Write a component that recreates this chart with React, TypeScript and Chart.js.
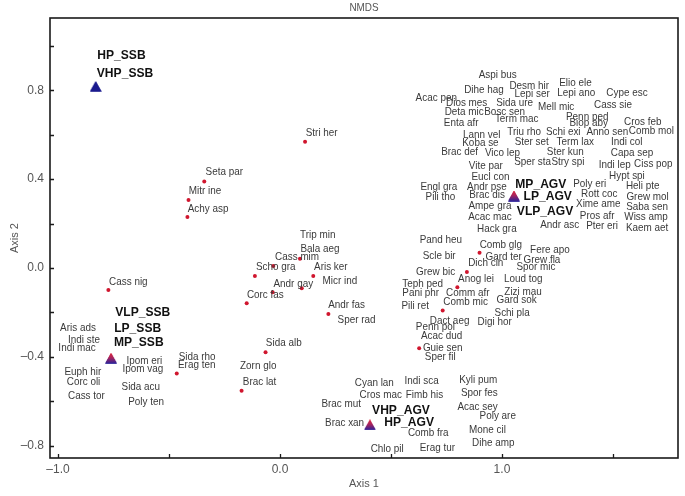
import React, { useEffect, useRef } from 'react';
import { Chart, registerables } from 'chart.js';

Chart.register(...registerables);

// ---- Data (NMDS axis scores) ----
const speciesNames = [
  'Aspi bus', 'Elio ele', 'Desm hir', 'Dihe hag', 'Lepi ser', 'Lepi ano', 'Cype esc', 'Acac pen', 'Dios mes', 'Sida ure',
  'Mell mic', 'Cass sie', 'Deta mic', 'Bosc sen', 'Term mac', 'Penn ped', 'Enta afr', 'Biop aby', 'Cros feb', 'Lann vel',
  'Triu rho', 'Schi exi', 'Anno sen', 'Comb mol', 'Koba se', 'Ster set', 'Term lax', 'Indi col', 'Brac def', 'Vico lep',
  'Ster kun', 'Capa sep', 'Vite par', 'Sper sta', 'Stry spi', 'Indi lep', 'Ciss pop', 'Eucl con', 'Poly eri', 'Hypt spi',
  'Engl gra', 'Andr pse', 'Heli pte', 'Pili tho', 'Brac dis', 'Rott coc', 'Grew mol', 'Ampe gra', 'Xime ame', 'Saba sen',
  'Acac mac', 'Pros afr', 'Wiss amp', 'Andr asc', 'Pter eri', 'Kaem aet', 'Hack gra', 'Pand heu', 'Comb glg', 'Fere apo',
  'Scle bir', 'Gard ter', 'Dich cin', 'Grew fla', 'Spor mic', 'Grew bic', 'Anog lei', 'Loud tog', 'Teph ped', 'Pani phr',
  'Comm afr', 'Zizi mau', 'Pili ret', 'Comb mic', 'Gard sok', 'Schi pla', 'Dact aeg', 'Digi hor', 'Penn pol', 'Acac dud',
  'Guie sen', 'Sper fil',
  'Cyan lan', 'Indi sca', 'Kyli pum', 'Cros mac', 'Fimb his', 'Spor fes', 'Brac mut', 'Acac sey', 'Poly are', 'Brac xan',
  'Comb fra', 'Mone cil', 'Chlo pil', 'Erag tur', 'Dihe amp',
  'Stri her', 'Seta par', 'Mitr ine', 'Achy asp', 'Trip min', 'Bala aeg', 'Cass mim', 'Scho gra', 'Aris ker', 'Micr ind',
  'Andr gay', 'Corc fas', 'Andr fas', 'Sper rad', 'Sida alb', 'Zorn glo', 'Brac lat', 'Sida rho', 'Erag ten',
  'Cass nig', 'Aris ads', 'Indi ste', 'Indi mac', 'Ipom eri', 'Ipom vag', 'Euph hir', 'Corc oli', 'Sida acu', 'Cass tor',
  'Poly ten',
];

const speciesX = [
  0.981, 1.331, 1.123, 0.919, 1.136, 1.335, 1.563, 0.704, 0.841, 1.057,
  1.244, 1.500, 0.830, 1.012, 1.066, 1.384, 0.816, 1.391, 1.634, 0.909,
  1.100, 1.276, 1.475, 1.673, 0.903, 1.134, 1.330, 1.562, 0.809, 1.002,
  1.285, 1.586, 0.927, 1.138, 1.297, 1.508, 1.682, 0.948, 1.395, 1.563,
  0.716, 0.932, 1.634, 0.723, 0.933, 1.438, 1.656, 0.946, 1.434, 1.654,
  0.946, 1.429, 1.649, 1.260, 1.451, 1.654, 0.977, 0.725, 0.995, 1.216,
  0.717, 1.008, 0.927, 1.180, 1.153, 0.701, 0.883, 1.096, 0.643, 0.634,
  0.846, 1.095, 0.609, 0.836, 1.066, 1.046, 0.764, 0.967, 0.700, 0.728,
  0.733, 0.722,
  0.425, 0.638, 0.893, 0.454, 0.651, 0.898, 0.276, 0.890, 0.981, 0.291,
  0.668, 0.935, 0.483, 0.709, 0.961,
  0.188, -0.251, -0.338, -0.324, 0.170, 0.180, 0.077, -0.019, 0.229, 0.270,
  0.060, -0.066, 0.300, 0.345, 0.017, -0.098, -0.092, -0.373, -0.375,
  -0.683, -0.910, -0.883, -0.914, -0.611, -0.618, -0.888, -0.885, -0.627, -0.872,
  -0.603,
];

const speciesY = [
  0.869, 0.835, 0.820, 0.802, 0.782, 0.787, 0.787, 0.764, 0.742, 0.742,
  0.727, 0.734, 0.704, 0.704, 0.670, 0.682, 0.655, 0.655, 0.659, 0.599,
  0.614, 0.614, 0.614, 0.617, 0.564, 0.569, 0.569, 0.569, 0.524, 0.519,
  0.521, 0.519, 0.459, 0.479, 0.479, 0.464, 0.468, 0.411, 0.378, 0.414,
  0.364, 0.366, 0.369, 0.321, 0.329, 0.332, 0.321, 0.279, 0.287, 0.273,
  0.228, 0.236, 0.228, 0.194, 0.189, 0.179, 0.174, 0.126, 0.104, 0.081,
  0.054, 0.051, 0.023, 0.036, 0.003, -0.018, -0.048, -0.050, -0.073, -0.114,
  -0.114, -0.107, -0.170, -0.152, -0.144, -0.201, -0.239, -0.242, -0.267, -0.306,
  -0.362, -0.402,
  -0.517, -0.508, -0.505, -0.572, -0.572, -0.564, -0.614, -0.625, -0.667, -0.697,
  -0.745, -0.730, -0.817, -0.812, -0.790,
  0.609, 0.431, 0.348, 0.267, 0.149, 0.084, 0.048, 0.003, 0.003, -0.057,
  -0.072, -0.122, -0.167, -0.234, -0.336, -0.443, -0.512, -0.400, -0.438,
  -0.062, -0.272, -0.324, -0.362, -0.419, -0.456, -0.467, -0.512, -0.535, -0.577,
  -0.602,
];

// visible species markers
const dotX = [
  0.113, -0.341, -0.412, -0.417, 0.090, -0.030, -0.113, 0.150, 0.098, -0.033,
  -0.150, 0.218, -0.065, -0.173, -0.465, -0.773, 0.899, 0.842, 0.799, 0.733,
  0.627,
];
const dotY = [
  0.569, 0.389, 0.306, 0.230, 0.041, 0.009, -0.036, -0.036, -0.091, -0.109,
  -0.159, -0.207, -0.380, -0.553, -0.475, -0.099, 0.068, -0.018, -0.087, -0.192,
  -0.362,
];

// sites (stands)
const siteNames = ['HP_SSB', 'VHP_SSB', 'VLP_SSB', 'LP_SSB', 'MP_SSB', 'MP_AGV', 'LP_AGV', 'VLP_AGV', 'VHP_AGV', 'HP_AGV'];
const siteX = [-0.830, -0.830, -0.761, -0.761, -0.761, 1.054, 1.054, 1.054, 0.405, 0.405];
const siteY = [0.817, 0.817, -0.407, -0.407, -0.407, 0.324, 0.324, 0.324, -0.707, -0.707];
const siteLabelX = [-0.714, -0.698, -0.618, -0.641, -0.636, 1.175, 1.206, 1.194, 0.545, 0.582];
const siteLabelY = [0.959, 0.878, -0.201, -0.272, -0.336, 0.378, 0.321, 0.254, -0.640, -0.697];
const siteMixed = [false, false, true, true, true, true, true, true, true, true];

// axes
const X_MIN = -1.036;
const X_MAX = 1.793;
const Y_MIN = -0.856;
const Y_MAX = 1.126;
const xLabelValues = [-1, 0, 1];
const yLabelValues = [-0.8, -0.4, 0, 0.4, 0.8];

const FONT = '"Liberation Sans", Arial, sans-serif';

function fmt(v: number): string {
  const s = Math.abs(v).toFixed(1);
  return v < -1e-9 ? '\u2013' + s : s;
}

function makeTriangle(mixed: boolean): HTMLCanvasElement {
  const c = document.createElement('canvas');
  c.width = 12;
  c.height = 11;
  const g = c.getContext('2d')!;
  g.beginPath();
  g.moveTo(6, 0.3);
  g.lineTo(11.7, 10.5);
  g.lineTo(0.3, 10.5);
  g.closePath();
  if (mixed) {
    const grad = g.createLinearGradient(0, 0, 0, 11);
    grad.addColorStop(0, '#e0283a');
    grad.addColorStop(0.45, '#a8245e');
    grad.addColorStop(1, '#22229c');
    g.fillStyle = grad;
  } else {
    g.fillStyle = '#1a1a8e';
  }
  g.fill();
  return c;
}

function drawCondensed(ctx: CanvasRenderingContext2D, text: string, x: number, y: number, sx: number) {
  ctx.save();
  ctx.translate(x, y);
  ctx.scale(sx, 1);
  ctx.fillText(text, 0, 0);
  ctx.restore();
}

const decorPlugin = {
  id: 'decor',
  afterDatasetsDraw(chart: any) {
    const { ctx, scales } = chart;
    const xs = scales.x;
    const ys = scales.y;
    ctx.save();
    ctx.textAlign = 'center';
    ctx.textBaseline = 'middle';
    ctx.font = `11px ${FONT}`;
    ctx.fillStyle = '#3a3a3a';
    speciesNames.forEach((n, i) => {
      drawCondensed(ctx, n, xs.getPixelForValue(speciesX[i]), ys.getPixelForValue(speciesY[i]), 0.9);
    });
    ctx.font = `bold 13px ${FONT}`;
    ctx.fillStyle = '#111111';
    siteNames.forEach((n, i) => {
      drawCondensed(ctx, n, xs.getPixelForValue(siteLabelX[i]), ys.getPixelForValue(siteLabelY[i]), 0.93);
    });
    ctx.restore();
  },
  afterDraw(chart: any) {
    const { ctx, chartArea, scales } = chart;
    const { left, right, top, bottom } = chartArea;
    ctx.save();
    // inward tick marks
    ctx.strokeStyle = '#1a1a1a';
    ctx.lineWidth = 1.3;
    ctx.beginPath();
    scales.x.ticks.forEach((t: any) => {
      const px = Math.round(scales.x.getPixelForValue(t.value)) + 0.5;
      ctx.moveTo(px, bottom);
      ctx.lineTo(px, bottom - 4);
    });
    scales.y.ticks.forEach((t: any) => {
      const py = Math.round(scales.y.getPixelForValue(t.value)) + 0.5;
      ctx.moveTo(left, py);
      ctx.lineTo(left + 4, py);
    });
    ctx.stroke();
    // frame
    ctx.lineWidth = 1.6;
    ctx.strokeStyle = '#1a1a1a';
    ctx.strokeRect(left, top, right - left, bottom - top);
    // title
    ctx.fillStyle = '#555555';
    ctx.font = `11px ${FONT}`;
    ctx.textAlign = 'center';
    ctx.textBaseline = 'middle';
    drawCondensed(ctx, 'NMDS', (left + right) / 2, 8, 0.9);
    ctx.restore();
  },
};

export default function App() {
  const ref = useRef<HTMLCanvasElement | null>(null);

  useEffect(() => {
    if (!ref.current) return;
    const navyTri = makeTriangle(false);
    const mixTri = makeTriangle(true);
    const chart = new Chart(ref.current, {
      type: 'scatter',
      data: {
        datasets: [
          {
            label: 'Species',
            data: dotX.map((x, i) => ({ x, y: dotY[i] })),
            pointRadius: 2,
            pointBackgroundColor: '#d0162e',
            pointBorderWidth: 0,
            pointBorderColor: '#d0162e',
          },
          {
            label: 'Sites',
            data: siteX.map((x, i) => ({ x, y: siteY[i] })),
            pointStyle: (c: any) => (siteMixed[c.dataIndex] ? mixTri : navyTri),
            pointRadius: 6,
          },
        ],
      },
      options: {
        animation: false,
        responsive: false,
        devicePixelRatio: 1,
        layout: { padding: { left: 0, right: 7, top: 18, bottom: 0 } },
        plugins: {
          legend: { display: false },
          tooltip: { enabled: false },
          title: { display: false },
        },
        scales: {
          x: {
            type: 'linear',
            min: X_MIN,
            max: X_MAX,
            afterFit: (s: any) => {
              s.height = 38;
            },
            grid: { display: false, drawTicks: false },
            border: { display: false },
            ticks: {
              stepSize: 0.5,
              includeBounds: false,
              autoSkip: false,
              maxRotation: 0,
              padding: 4,
              color: '#555555',
              font: { size: 12, family: FONT },
              callback: (v: any) => {
                const n = Number(v);
                return xLabelValues.some((t) => Math.abs(t - n) < 1e-6) ? fmt(n) : '';
              },
            },
            title: {
              display: true,
              text: 'Axis 1',
              color: '#555555',
              font: { size: 11, family: FONT },
              padding: { top: 0, bottom: 5 },
            },
          },
          y: {
            type: 'linear',
            min: Y_MIN,
            max: Y_MAX,
            afterFit: (s: any) => {
              s.width = 50;
            },
            grid: { display: false, drawTicks: false },
            border: { display: false },
            ticks: {
              stepSize: 0.2,
              includeBounds: false,
              autoSkip: false,
              padding: 6,
              color: '#555555',
              font: { size: 12, family: FONT },
              callback: (v: any) => {
                const n = Number(v);
                return yLabelValues.some((t) => Math.abs(t - n) < 1e-6) ? fmt(n) : '';
              },
            },
            title: {
              display: true,
              text: 'Axis 2',
              color: '#555555',
              font: { size: 11, family: FONT },
              padding: { top: 8, bottom: 0 },
            },
          },
        },
      },
      plugins: [decorPlugin],
    } as any);
    return () => chart.destroy();
  }, []);

  return (
    <div style={{ position: 'fixed', left: 0, top: 0, width: 685, height: 496, background: '#ffffff' }}>
      <canvas ref={ref} width={685} height={496} style={{ display: 'block' }} />
    </div>
  );
}
